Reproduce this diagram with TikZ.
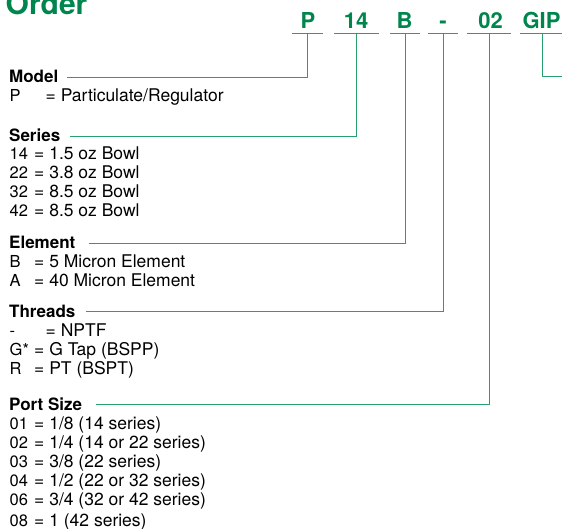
\documentclass[tikz,border=0pt]{standalone}
\usepackage{fontspec}
\setmainfont{TeX Gyre Heros}
\definecolor{tgreen}{RGB}{0,133,77}
\definecolor{lgreen}{RGB}{40,160,110}
\newcommand\orow[5]{%
  \node[keyt] (#1k) at (9.5,#2) {#3};
  \node[valt] (#1v) at (#4,#2) {= #5};}
\begin{document}
\begin{tikzpicture}[x=1pt,y=-1pt,
  keyt/.style={anchor=base west,inner sep=0pt,font=\fontsize{16.5}{19}\selectfont},
  valt/.style={anchor=base west,inner sep=0pt,font=\fontsize{17.5}{19}\selectfont},
  headt/.style={anchor=base west,inner sep=0pt,font=\fontsize{17}{19}\selectfont\bfseries},
  codet/.style={anchor=base,inner sep=0pt,text=tgreen,font=\fontsize{22}{24}\selectfont\bfseries},
  uline/.style={inner sep=0pt,minimum height=0pt,minimum width=#1},
  conn/.style={draw=lgreen,line width=0.9pt}]
\useasboundingbox (0,0) rectangle (562,529);
% title
\node[anchor=base west,inner sep=0pt,text=tgreen,font=\fontsize{30}{32}\selectfont\bfseries] (title) at (5.5,15) {Order};
% code letters
\node[codet] (cP) at (308,28.3) {P};
\node[codet] (c14) at (356,28.3) {14};
\node[codet] (cB) at (404.5,28.3) {B};
\node[codet] (cT) at (443,28.3) {-};
\node[codet] (c02) at (490.5,28.3) {02};
\node[codet] (cG) at (541.5,28.3) {GIP};
% underlines
\node[uline=30pt] (uP) at (307.5,33.5) {};
\node[uline=44pt] (u14) at (356.5,33.5) {};
\node[uline=30pt] (uB) at (405,33.5) {};
\node[uline=30pt] (uT) at (443,33.5) {};
\node[uline=44pt] (u02) at (489,33.5) {};
\node[uline=44pt] (uG) at (542,33.5) {};
\foreach \u in {uP,u14,uB,uT,u02,uG}
  \draw[conn] (\u.west) -- (\u.east);
% headings
\node[headt] (hM) at (9,83) {Model};
\node[headt] (hS) at (9,141.5) {Series};
\node[headt] (hE) at (9,249) {Element};
\node[headt] (hT) at (9,317) {Threads};
\node[headt] (hP) at (9,410) {Port Size};
% rows
\orow{m1}{101.7}{P}{45.5}{Particulate/Regulator}
\orow{s1}{160}{14}{34}{1.5 oz Bowl}
\orow{s2}{179}{22}{34}{3.8 oz Bowl}
\orow{s3}{198}{32}{34}{8.5 oz Bowl}
\orow{s4}{217}{42}{34}{8.5 oz Bowl}
\orow{e1}{268}{B}{34}{5 Micron Element}
\orow{e2}{287}{A}{34}{40 Micron Element}
\orow{t1}{336}{-}{45.5}{NPTF}
\orow{t2}{355}{G*}{34}{G Tap (BSPP)}
\orow{t3}{374}{R}{34}{PT (BSPT)}
\orow{p1}{429}{01}{34}{1/8 (14 series)}
\orow{p2}{448}{02}{34}{1/4 (14 or 22 series)}
\orow{p3}{467}{03}{34}{3/8 (22 series)}
\orow{p4}{486}{04}{34}{1/2 (22 or 32 series)}
\orow{p5}{505}{06}{34}{3/4 (32 or 42 series)}
\orow{p6}{526.5}{08}{34}{1 (42 series)}
% connectors
\coordinate (mM) at (67,77);
\coordinate (mS) at (70,136);
\coordinate (mE) at (89,243);
\coordinate (mT) at (86,311);
\coordinate (mP) at (96,404);
\coordinate (mG) at (562,76);
\draw[conn] (uP.center) |- (mM);
\draw[conn] (u14.center) |- (mS);
\draw[conn] (uB.center) |- (mE);
\draw[conn] (uT.center) |- (mT);
\draw[conn] (u02.center) |- (mP);
\draw[conn] (uG.center) |- (mG);
\end{tikzpicture}
\end{document}
